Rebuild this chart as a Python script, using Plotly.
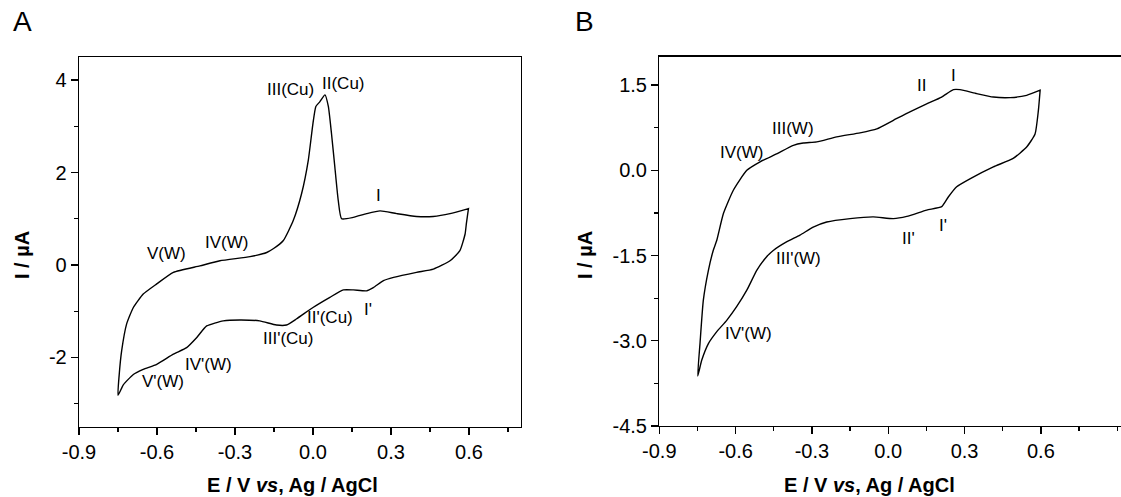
import plotly.graph_objects as go

# ---------------- data ----------------
A_up_E = [-0.75, -0.745, -0.736, -0.717, -0.691, -0.653, -0.601, -0.537, -0.435, -0.358, -0.242, -0.178, -0.153,
          -0.114, -0.076, -0.044, -0.018, 0.0, 0.011, 0.026, 0.046, 0.059, 0.071, 0.084, 0.097, 0.11,
          0.155, 0.206, 0.258, 0.322, 0.398, 0.462, 0.527, 0.598]
A_up_I = [-2.82, -2.35, -1.86, -1.28, -0.92, -0.63, -0.41, -0.16, -0.02, 0.09, 0.18, 0.27, 0.35,
          0.53, 0.96, 1.54, 2.27, 3.07, 3.43, 3.53, 3.68, 3.43, 2.85, 2.12, 1.40, 1.0,
          1.03, 1.11, 1.17, 1.11, 1.05, 1.05, 1.11, 1.22]
A_dn_E = [0.598, 0.59, 0.585, 0.565, 0.527, 0.463, 0.398, 0.31, 0.271, 0.232, 0.206, 0.155, 0.117, 0.065,
          0.0, -0.064, -0.102, -0.141, -0.205, -0.281, -0.345, -0.409, -0.447, -0.486, -0.537, -0.601,
          -0.653, -0.691, -0.729, -0.75]
A_dn_I = [1.22, 0.9, 0.67, 0.31, 0.09, -0.09, -0.16, -0.27, -0.34, -0.49, -0.56, -0.54, -0.54, -0.70,
          -0.92, -1.17, -1.30, -1.30, -1.21, -1.19, -1.21, -1.32, -1.57, -1.79, -1.93, -2.15,
          -2.26, -2.37, -2.59, -2.82]

B_up_E = [-0.749, -0.74, -0.727, -0.707, -0.688, -0.674, -0.648, -0.609, -0.556, -0.504, -0.439, -0.373,
          -0.334, -0.281, -0.203, -0.111, -0.045, 0.02, 0.085, 0.151, 0.21, 0.256, 0.282, 0.348, 0.413,
          0.479, 0.544, 0.597]
B_up_I = [-3.62, -3.05, -2.29, -1.76, -1.41, -1.23, -0.76, -0.35, 0.0, 0.15, 0.29, 0.44,
          0.48, 0.50, 0.59, 0.66, 0.73, 0.88, 1.03, 1.17, 1.29, 1.42, 1.42, 1.35, 1.29,
          1.28, 1.32, 1.41]
B_dn_E = [0.597, 0.59, 0.577, 0.544, 0.491, 0.413, 0.321, 0.269, 0.236, 0.21, 0.151, 0.073, 0.02, -0.059,
          -0.15, -0.242, -0.295, -0.347, -0.4, -0.452, -0.478, -0.517, -0.556, -0.596, -0.635, -0.674,
          -0.707, -0.733, -0.749]
B_dn_I = [1.41, 1.05, 0.64, 0.41, 0.21, 0.06, -0.15, -0.29, -0.47, -0.64, -0.70, -0.81, -0.85, -0.82,
          -0.85, -0.91, -1.0, -1.14, -1.26, -1.41, -1.52, -1.76, -2.11, -2.40, -2.64, -2.84,
          -3.05, -3.34, -3.62]

A_labels = ["III(Cu)", "II(Cu)", "I", "IV(W)", "V(W)", "III'(Cu)", "II'(Cu)", "I'", "IV'(W)", "V'(W)"]
A_label_E = [-0.088, 0.119, 0.252, -0.332, -0.565, -0.095, 0.065, 0.213, -0.402, -0.578]
A_label_I = [3.79, 3.93, 1.51, 0.49, 0.25, -1.59, -1.14, -0.96, -2.15, -2.52]

B_labels = ["I", "II", "III(W)", "IV(W)", "II'", "I'", "III'(W)", "IV'(W)"]
B_label_E = [0.256, 0.131, -0.373, -0.576, 0.079, 0.214, -0.354, -0.55]
B_label_I = [1.67, 1.49, 0.73, 0.32, -1.2, -0.97, -1.55, -2.87]

x_tickvals = [-0.9, -0.6, -0.3, 0.0, 0.3, 0.6]
x_ticktext = ["-0.9", "-0.6", "-0.3", "0.0", "0.3", "0.6"]
A_y_tickvals = [-2, 0, 2, 4]
A_y_ticktext = ["-2", "0", "2", "4"]
B_y_tickvals = [-4.5, -3.0, -1.5, 0.0, 1.5]
B_y_ticktext = ["-4.5", "-3.0", "-1.5", "0.0", "1.5"]

FONT = "Liberation Sans, Arial, sans-serif"
W, H = 1140, 497  # page slightly wider than the window: panel B's right edge is cropped off

fig = go.Figure()
fig.add_trace(go.Scatter(x=A_up_E + A_dn_E, y=A_up_I + A_dn_I, mode="lines",
                         line=dict(color="black", width=1.4, shape="spline", smoothing=0.5),
                         xaxis="x", yaxis="y", showlegend=False, hoverinfo="skip"))
fig.add_trace(go.Scatter(x=B_up_E + B_dn_E, y=B_up_I + B_dn_I, mode="lines",
                         line=dict(color="black", width=1.4, shape="spline", smoothing=0.5),
                         xaxis="x2", yaxis="y2", showlegend=False, hoverinfo="skip"))

C = dict(showarrow=False, xanchor="center", yanchor="middle")
ann = []
for t, e, i in zip(A_labels, A_label_E, A_label_I):
    ann.append(dict(text=t, x=e, y=i, xref="x", yref="y",
                    font=dict(size=17, color="black", family=FONT), **C))
for t, e, i in zip(B_labels, B_label_E, B_label_I):
    ann.append(dict(text=t, x=e, y=i, xref="x2", yref="y2",
                    font=dict(size=17, color="black", family=FONT), **C))

# panel letters
ann.append(dict(text="A", x=22 / W, y=1 - 22 / H, xref="paper", yref="paper",
                font=dict(size=28, color="black", family=FONT), **C))
ann.append(dict(text="B", x=584 / W, y=1 - 22 / H, xref="paper", yref="paper",
                font=dict(size=28, color="black", family=FONT), **C))
# axis titles
xt = "<b>E / V <i>vs</i>, Ag / AgCl</b>"
ann.append(dict(text=xt, x=292 / W, y=1 - 485 / H, xref="paper", yref="paper",
                font=dict(size=20, color="black", family=FONT), **C))
ann.append(dict(text=xt, x=869 / W, y=1 - 485 / H, xref="paper", yref="paper",
                font=dict(size=20, color="black", family=FONT), **C))
yt = "<b>I / µA</b>"
ann.append(dict(text=yt, x=22 / W, y=1 - 255 / H, xref="paper", yref="paper",
                textangle=-90, font=dict(size=20, color="black", family=FONT), **C))
ann.append(dict(text=yt, x=585 / W, y=1 - 255 / H, xref="paper", yref="paper",
                textangle=-90, font=dict(size=20, color="black", family=FONT), **C))

axis_common = dict(showgrid=False, zeroline=False, showline=True, linecolor="black", linewidth=1.3,
                   ticks="outside", ticklen=7, tickwidth=1.3, tickcolor="black", automargin=False,
                   tickfont=dict(size=20, color="black", family=FONT))
minor_common = dict(ticks="outside", ticklen=4, tickcolor="black", tickwidth=1.3)

fig.update_layout(
    width=W, height=H, autosize=False,
    margin=dict(l=0, r=0, t=0, b=0, pad=0),
    paper_bgcolor="white", plot_bgcolor="white",
    annotations=ann,
    xaxis=dict(domain=[79 / W, 521 / W], range=[-0.9, 0.8], anchor="y", mirror=True,
               tickvals=x_tickvals, ticktext=x_ticktext,
               minor=dict(dtick=0.15, tick0=-0.9, **minor_common), **axis_common),
    yaxis=dict(domain=[1 - 426.7 / H, 1 - 57 / H], range=[-3.5, 4.5], anchor="x", mirror=True,
               tickvals=A_y_tickvals, ticktext=A_y_ticktext,
               minor=dict(dtick=1, tick0=0, **minor_common), **axis_common),
    xaxis2=dict(domain=[659.3 / W, 1.0], range=[-0.9, -0.9 + (W - 659.3) / 254.4], anchor="y2", mirror=True,
                tickvals=x_tickvals, ticktext=x_ticktext,
                minor=dict(dtick=0.15, tick0=-0.9, **minor_common), **axis_common),
    yaxis2=dict(domain=[1 - 426 / H, 1 - 56.7 / H], range=[-4.5, 2.0], anchor="x2", mirror=False,
                tickvals=B_y_tickvals, ticktext=B_y_ticktext,
                minor=dict(dtick=0.75, tick0=-4.5, **minor_common), **axis_common),
)

fig.write_html("out.html", config={"displayModeBar": False, "staticPlot": True},
               post_script="document.body.style.margin='0';document.body.style.overflow='hidden';"
                           "document.documentElement.style.overflow='hidden';")
